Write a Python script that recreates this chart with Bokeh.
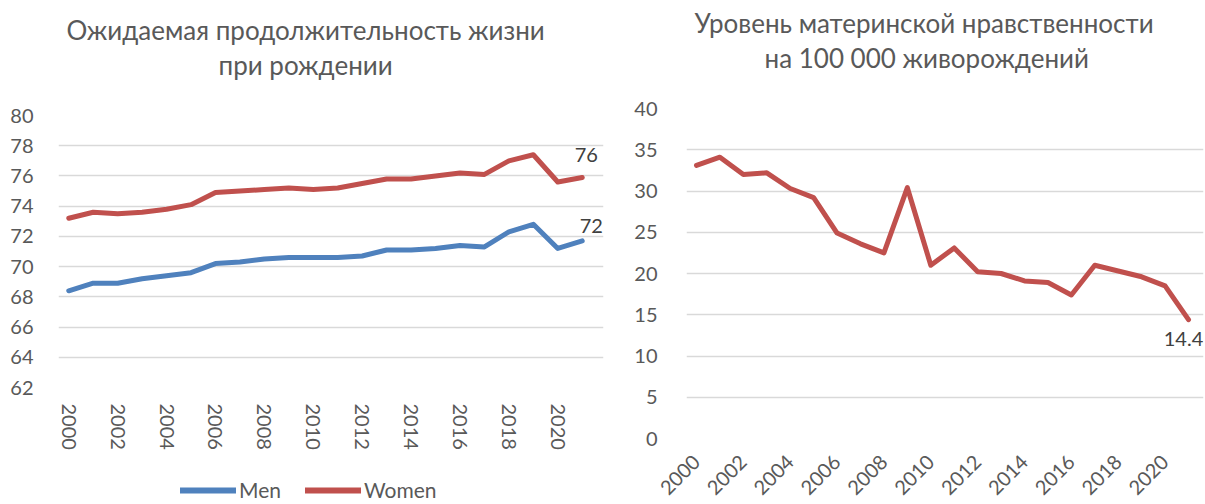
from bokeh.plotting import figure
from bokeh.models import Range1d, FixedTicker, Legend, LegendItem, Label, Title
from bokeh.layouts import row, column
from bokeh.embed import file_html
from bokeh.resources import INLINE
from math import pi

years = list(range(2000, 2022))
men = [68.4, 68.9, 68.9, 69.2, 69.4, 69.6, 70.2, 70.3, 70.5, 70.6, 70.6, 70.6,
       70.7, 71.1, 71.1, 71.2, 71.4, 71.3, 72.3, 72.8, 71.2, 71.7]
women = [73.2, 73.6, 73.5, 73.6, 73.8, 74.1, 74.9, 75.0, 75.1, 75.2, 75.1, 75.2,
         75.5, 75.8, 75.8, 76.0, 76.2, 76.1, 77.0, 77.4, 75.6, 75.9]
mmr = [33.1, 34.1, 32.0, 32.2, 30.3, 29.2, 24.9, 23.6, 22.5, 30.4, 21.0, 23.1,
       20.2, 20.0, 19.1, 18.9, 17.4, 21.0, 20.3, 19.6, 18.5, 14.4]
year_ticks = list(range(2000, 2021, 2))
le_ticks = list(range(62, 81, 2))
mmr_ticks = list(range(0, 41, 5))
title_left = ["Ожидаемая продолжительность жизни", "при рождении"]
title_right = ["Уровень материнской нравственности", "на 100 000 живорождений"]
series_names = ["Men", "Women"]

FONT = "Lato"
GREY = "#595959"
BLUE = "#4F81BD"
RED = "#C0504D"
GRID = "#d9d9d9"


def style(p, yticks, lines, offsets):
    p.outline_line_color = None
    p.xgrid.visible = False
    p.ygrid.grid_line_color = GRID
    p.ygrid.grid_line_width = 1.5
    p.yaxis.ticker = FixedTicker(ticks=yticks)
    p.xaxis.ticker = FixedTicker(ticks=year_ticks)
    for ax in (p.xaxis[0], p.yaxis[0]):
        ax.axis_line_color = None
        ax.major_tick_line_color = None
        ax.minor_tick_line_color = None
        ax.major_label_text_font = FONT
        ax.major_label_text_font_size = "20px"
        ax.major_label_text_color = GREY
    p.title.visible = False
    # spacer between the title block and the plot area
    p.add_layout(Title(text="\u00a0", text_font=FONT, text_font_size="26px",
                       standoff=0), "above")
    for txt, off, so in ((lines[1], offsets[1], 2), (lines[0], offsets[0], 0)):
        p.add_layout(Title(text=txt, align="left", offset=off,
                           text_font=FONT, text_font_size="26px",
                           text_font_style="normal", text_color=GREY,
                           standoff=so), "above")


# ---------- left chart ----------
p1 = figure(width=604, height=456, x_range=Range1d(1999.58, 2021.87),
            y_range=Range1d(62, 80), output_backend="svg", toolbar_location=None,
            min_border_left=58, min_border_right=1, min_border_top=115,
            min_border_bottom=69)
style(p1, le_ticks, title_left, (8, 160))
p1.yaxis.major_label_standoff = 19
p1.xaxis.major_label_orientation = "vertical"
p1.xaxis.major_label_standoff = 10

p1.line(years, men, line_width=5, color=BLUE, line_cap="round", line_join="round")
p1.line(years, women, line_width=5, color=RED, line_cap="round", line_join="round")

p1.add_layout(Label(x=years[-1], y=women[-1], text=f"{round(women[-1])}",
                    x_offset=4, y_offset=22, text_align="center", text_baseline="middle",
                    text_font=FONT, text_font_size="20px", text_color="#404040"))
p1.add_layout(Label(x=years[-1], y=men[-1], text=f"{round(men[-1])}",
                    x_offset=9, y_offset=15, text_align="center", text_baseline="middle",
                    text_font=FONT, text_font_size="20px", text_color="#404040"))

# legend strip under the left chart (its key renderers sit outside its view)
p_leg = figure(width=604, height=46, x_range=Range1d(0, 1), y_range=Range1d(0, 1),
               x_axis_type=None, y_axis_type=None, output_backend="svg",
               toolbar_location=None, min_border=0)
p_leg.outline_line_color = None
p_leg.grid.visible = False
key_men = p_leg.line(x=years[:1], y=men[:1], line_width=6, color=BLUE, line_cap="round")
key_women = p_leg.line(x=years[:1], y=women[:1], line_width=6, color=RED, line_cap="round")
legend = Legend(items=[LegendItem(label=series_names[0], renderers=[key_men]),
                       LegendItem(label=series_names[1], renderers=[key_women])],
                orientation="horizontal", location=(180, 0), glyph_width=56,
                glyph_height=20, label_standoff=3, spacing=24, padding=0,
                margin=0, border_line_color=None, background_fill_alpha=0,
                label_text_font=FONT, label_text_font_size="21px",
                label_text_color=GREY)
p_leg.add_layout(legend)

# ---------- right chart ----------
p2 = figure(width=601, height=504, x_range=Range1d(1999.573, 2021.64),
            y_range=Range1d(0, 40), output_backend="svg", toolbar_location=None,
            min_border_left=82, min_border_right=2, min_border_top=108,
            min_border_bottom=63)
style(p2, mmr_ticks, title_right, (8, 78))
p2.yaxis.major_label_standoff = 23
p2.xaxis.major_label_orientation = pi / 4
p2.xaxis.major_label_standoff = 14

p2.line(years, mmr, line_width=5, color=RED, line_cap="round", line_join="round")
p2.add_layout(Label(x=years[-1], y=mmr[-1], text=f"{mmr[-1]}",
                    x_offset=-5, y_offset=-19, text_align="center", text_baseline="middle",
                    text_font=FONT, text_font_size="20px", text_color="#404040"))

layout = row(column(p1, row(p_leg)), column(p2))
open("out.html", "w").write(file_html(layout, INLINE))
